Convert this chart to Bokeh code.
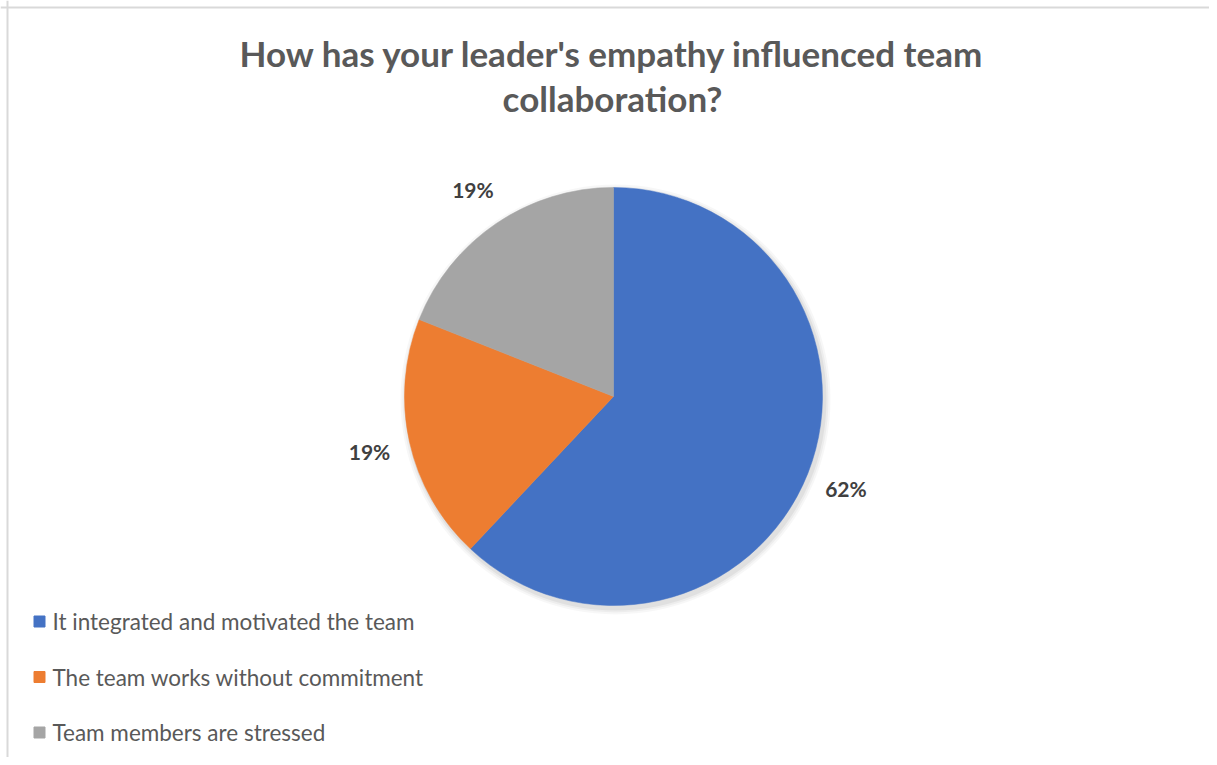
import numpy as np
from bokeh.plotting import figure
from bokeh.models import Range1d, Span
from bokeh.core.properties import value
from bokeh.embed import file_html
from bokeh.resources import INLINE

# ---- data ----
title_lines = ["How has your leader's empathy influenced team", "collaboration?"]
categories = [
    "It integrated and motivated the team",
    "The team works without commitment",
    "Team members are stressed",
]
percentages = [62, 19, 19]
label_texts = ["62%", "19%", "19%"]
colors = ["#4472C4", "#ED7D31", "#A5A5A5"]

# ---- layout ----
W, H = 1209, 757
OFF = 0


def sx(x):
    return x - OFF


def sy(y):
    return H - (y - OFF)


p = figure(width=W, height=H, x_range=Range1d(0, W), y_range=Range1d(0, H),
           output_backend="svg", toolbar_location=None, min_border=0)
p.axis.visible = False
p.grid.visible = False
p.outline_line_color = None
p.background_fill_color = "white"
p.border_fill_color = "white"

# chart border (top and left, as in the cropped reference)
p.add_layout(Span(location=sy(7), dimension="width", line_color="#D9D9D9", line_width=2))
p.add_layout(Span(location=sx(7), dimension="height", line_color="#D9D9D9", line_width=2))

# title
for i, line in enumerate(title_lines):
    p.text(x=[sx(612)], y=[sy(52 + 45 * i)], text=[line], text_align="center",
           text_baseline="middle", text_font=value("Lato"), text_font_style="bold",
           text_font_size="35px", text_color="#595959")

# pie
cx, cy, R = sx(613), sy(396), 209
vals = np.array(percentages, dtype=float)
frac = vals / vals.sum()
cum = np.concatenate([[0], np.cumsum(frac)])
start = np.pi / 2 - 2 * np.pi * cum[:-1]
end = np.pi / 2 - 2 * np.pi * cum[1:]

# soft shadow
for k, a in enumerate([0.05, 0.04, 0.03]):
    p.circle(x=[cx + 2], y=[cy - 3], radius=R + 2 + 2 * k, fill_color="black",
             fill_alpha=a, line_color=None)

p.wedge(x=cx, y=cy, radius=R, start_angle=start, end_angle=end, direction="clock",
        fill_color=colors, line_color=colors, line_width=0.5)

# data labels
mid = (start + end) / 2
lr = R + 41
p.text(x=cx + lr * np.cos(mid), y=cy + lr * np.sin(mid), text=label_texts,
       text_align="center", text_baseline="middle", text_font=value("Lato"),
       text_font_style="bold", text_font_size="21px", text_color="#404040")

# legend
for i, (cat, col) in enumerate(zip(categories, colors)):
    yy = sy(621 + 55.5 * i)
    p.scatter(x=[sx(39)], y=[yy], marker="square", size=11, fill_color=col, line_color=col)
    p.text(x=[sx(52)], y=[yy], text=[cat], text_align="left", text_baseline="middle",
           text_font=value("Lato"), text_font_size="22.5px", text_color="#595959")

open("out.html", "w").write(file_html(p, INLINE))
